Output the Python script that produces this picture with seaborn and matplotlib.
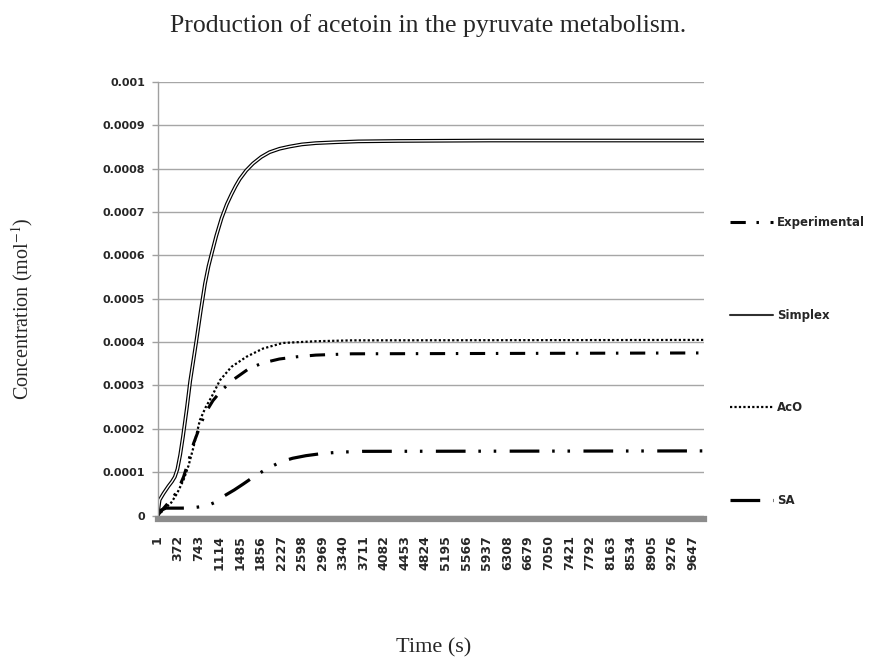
import numpy as np
import matplotlib
matplotlib.use('Agg')
import matplotlib.pyplot as plt
import matplotlib.patheffects as pe
from matplotlib.lines import Line2D
import seaborn as sns

# values (time in s, concentration)
exp_time = [1, 100, 200, 290, 380, 470, 560, 650, 750, 857, 1000, 1156, 1385,
            1650, 1900, 2197, 2500, 2853, 3500, 9848]
exp_conc = [0, 0.15e-4, 0.30e-4, 0.43e-4, 0.62e-4, 0.89e-4, 1.25e-4, 1.66e-4,
            2.00e-4, 2.35e-4, 2.65e-4, 2.89e-4, 3.15e-4, 3.39e-4, 3.52e-4,
            3.61e-4, 3.66e-4, 3.70e-4, 3.73e-4, 3.75e-4]

simplex_time = [1, 40, 110, 200, 260, 313, 360, 410, 460, 530, 590, 650, 700,
                780, 857, 920, 977, 1060, 1156, 1250, 1334, 1410, 1483, 1600,
                1722, 1870, 2019, 2200, 2377, 2600, 2853, 3200, 3620, 4340,
                6000, 9848]
simplex_conc = [0, 0.36e-4, 0.51e-4, 0.68e-4, 0.78e-4, 0.89e-4, 1.07e-4,
                1.40e-4, 1.82e-4, 2.48e-4, 3.10e-4, 3.60e-4, 4.02e-4, 4.72e-4,
                5.35e-4, 5.75e-4, 6.04e-4, 6.45e-4, 6.86e-4, 7.18e-4, 7.41e-4,
                7.60e-4, 7.76e-4, 7.96e-4, 8.12e-4, 8.27e-4, 8.38e-4, 8.46e-4,
                8.51e-4, 8.56e-4, 8.59e-4, 8.61e-4, 8.63e-4, 8.64e-4, 8.65e-4,
                8.65e-4]

aco_time = [1, 113, 250, 350, 470, 560, 650, 765, 870, 977, 1126, 1334, 1602,
            1900, 2258, 2853, 3500, 9848]
aco_conc = [0, 0.13e-4, 0.30e-4, 0.50e-4, 0.82e-4, 1.15e-4, 1.58e-4, 2.20e-4,
            2.50e-4, 2.74e-4, 3.12e-4, 3.43e-4, 3.66e-4, 3.85e-4, 3.98e-4,
            4.02e-4, 4.04e-4, 4.05e-4]

sa_time = [1, 60, 150, 300, 450, 640, 887, 1066, 1200, 1385, 1550, 1720, 1960,
           2228, 2435, 2675, 2970, 3260, 3700, 9848]
sa_conc = [0, 0.12e-4, 0.17e-4, 0.17e-4, 0.17e-4, 0.18e-4, 0.22e-4, 0.32e-4,
           0.45e-4, 0.59e-4, 0.73e-4, 0.88e-4, 1.07e-4, 1.24e-4, 1.32e-4,
           1.38e-4, 1.43e-4, 1.46e-4, 1.48e-4, 1.49e-4]

x_ticks = [1, 372, 743, 1114, 1485, 1856, 2227, 2598, 2969, 3340, 3711, 4082,
           4453, 4824, 5195, 5566, 5937, 6308, 6679, 7050, 7421, 7792, 8163,
           8534, 8905, 9276, 9647]
y_ticks = [0, 0.0001, 0.0002, 0.0003, 0.0004, 0.0005, 0.0006, 0.0007, 0.0008,
           0.0009, 0.001]
y_labels = ['0', '0.0001', '0.0002', '0.0003', '0.0004', '0.0005', '0.0006',
            '0.0007', '0.0008', '0.0009', '0.001']

sns.set_style('white')
plt.rcParams['mathtext.fontset'] = 'stix'

fig = plt.figure(figsize=(8.69, 6.60), dpi=100)
ax = fig.add_axes([157.5 / 869, 1 - 515.5 / 660, (704 - 157.5) / 869, (515.5 - 82) / 660])

# series
sns.lineplot(x=sa_time, y=sa_conc, ax=ax, color='black', lw=2.3,
             linestyle=(0, (9.3, 4, 0.8, 4, 0.8, 4.2)), estimator=None, sort=False)
sns.lineplot(x=exp_time, y=exp_conc, ax=ax, color='black', lw=2.2,
             linestyle=(0, (5, 3.5, 0.8, 3.8)), estimator=None, sort=False)
sns.lineplot(x=aco_time, y=aco_conc, ax=ax, color='black', lw=1.6,
             linestyle=(0, (1, 1)), estimator=None, sort=False)
sns.lineplot(x=simplex_time, y=simplex_conc, ax=ax, color='white', lw=1.0,
             path_effects=[pe.Stroke(linewidth=2.7, foreground='black'), pe.Normal()],
             estimator=None, sort=False)

lines = ax.get_lines()
sa_line, exp_line, aco_line = lines[0], lines[1], lines[2]

# axes frame (spine position first, it resets the ticks)
for s in ['top', 'right']:
    ax.spines[s].set_visible(False)
ax.spines['left'].set_color('#a0a0a0')
ax.spines['left'].set_linewidth(1.0)
ax.spines['bottom'].set_color('#8c8c8c')
ax.spines['bottom'].set_linewidth(4.5)
ax.spines['bottom'].set_position(('outward', 2.3))

ax.set_xlim(1, 9848)
ax.set_ylim(0, 0.001)
ax.set_yticks(y_ticks)
ax.set_yticklabels(y_labels, fontsize=8, fontweight='bold', family='DejaVu Sans')
ax.set_xticks(x_ticks)
ax.set_xticklabels([str(v) for v in x_ticks], fontsize=9, fontweight='bold',
                   family='DejaVu Sans', rotation=90)

ax.yaxis.grid(True, color='#a6a6a6', lw=1.0)
ax.set_axisbelow(True)
ax.tick_params(axis='y', length=4, width=1, color='#a0a0a0', pad=5, left=True)
ax.tick_params(axis='x', length=0, pad=12)

fig.text(0.4925, 1 - 32 / 660, 'Production of acetoin in the pyruvate metabolism.',
         ha='center', va='baseline', fontsize=18.5, family='Liberation Serif')
fig.text(0.4994, 1 - 652 / 660, 'Time (s)', ha='center', va='baseline',
         fontsize=16, family='Liberation Serif')
fig.text(0.025, 0.533, 'Concentration (mol$^{-1}$)', ha='center', va='center',
         rotation=90, fontsize=14.5, family='Liberation Serif')

handles = [exp_line, Line2D([], [], color='#303030', lw=1.5), aco_line, sa_line]
fig.legend(handles, ['Experimental', 'Simplex', 'AcO', 'SA'], loc='upper left',
           bbox_to_anchor=(730 / 869, 1 - 216 / 660), frameon=False,
           borderpad=0, borderaxespad=0, handlelength=3.6, handletextpad=0.35,
           labelspacing=6.75, prop={'family': 'DejaVu Sans', 'weight': 'bold', 'size': 8.5})

fig.savefig('out.png', dpi=100)
